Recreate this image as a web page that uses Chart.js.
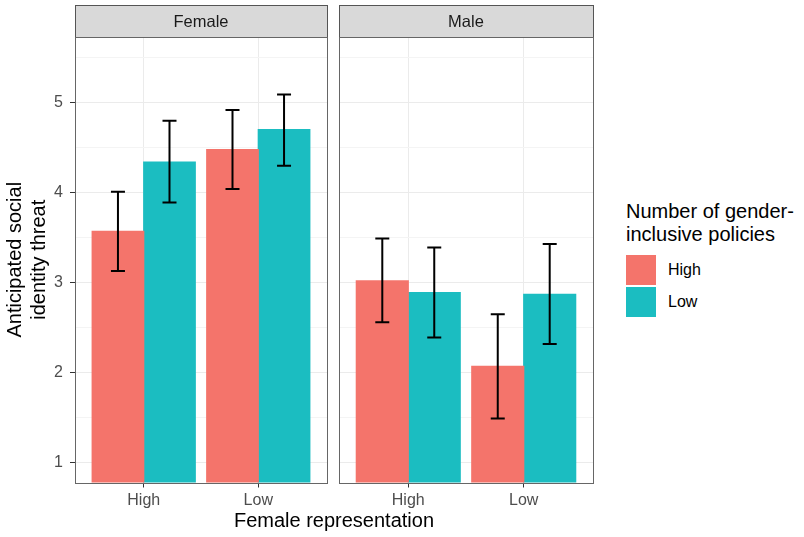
<!DOCTYPE html>
<html>
<head>
<meta charset="utf-8">
<script src="https://cdn.jsdelivr.net/npm/chart.js@4/dist/chart.umd.min.js"></script>
<style>
  body { margin: 0; background: #fff; }
  #wrap { position: relative; width: 804px; height: 537px; font-family: "Liberation Sans", Arial, sans-serif; }
  #left { position: absolute; left: 0; top: 0; }
  #right { position: absolute; left: 334px; top: 0; }
  #xtitle { position: absolute; left: 0; width: 668px; top: 508px; text-align: center; font-size: 20px; line-height: 24px; color: #000; }
  #legend { position: absolute; left: 626px; top: 200px; color: #000; }
  #legend .ttl { font-size: 20px; line-height: 23.4px; }
  #legend .row { display: flex; align-items: center; height: 30px; margin-top: 2px; }
  #legend .row:first-of-type { margin-top: 0; }
  #legend .key { width: 30px; height: 30px; }
  #legend .lab { margin-left: 12px; font-size: 16px; line-height: 30px; }
</style>
</head>
<body>
<div id="wrap">
  <canvas id="left" width="334" height="537"></canvas>
  <canvas id="right" width="266" height="537"></canvas>
  <div id="xtitle">Female representation</div>
  <div id="legend">
    <div class="ttl">Number of gender-<br>inclusive policies</div>
    <div id="keys" style="margin-top:8px"></div>
  </div>
</div>
<script>
var panels = ["Female", "Male"];
var categories = ["High", "Low"];          // Female representation
var seriesNames = ["High", "Low"];         // Number of gender-inclusive policies
var colores = ["#F4746B", "#1BBDC1"];

var femaleHighMean = [3.57, 4.48];
var femaleHighLo = [3.13, 4.04];
var femaleHighHi = [4.01, 4.92];
var femaleLowMean = [4.34, 4.70];
var femaleLowLo = [3.89, 4.30];
var femaleLowHi = [4.80, 5.09];

var maleHighMean = [3.02, 2.07];
var maleHighLo = [2.56, 1.49];
var maleHighHi = [3.49, 2.65];
var maleLowMean = [2.89, 2.87];
var maleLowLo = [2.39, 2.32];
var maleLowHi = [3.39, 3.43];

var yTicks = [1, 2, 3, 4, 5];
var yMin = 0.78;
var yMax = 5.73;

var font = "'Liberation Sans', Arial, sans-serif";

function puntos(valores) {
  return valores.map(function (v, i) { return { x: i + 1, y: v }; });
}

function isMajor(v) {
  return Math.abs(v - Math.round(v)) < 1e-6;
}

var errorBars = {
  id: "errorBars",
  afterDatasetsDraw: function (chart) {
    var ctx = chart.ctx;
    var y = chart.scales.y;
    ctx.save();
    ctx.strokeStyle = "#000";
    ctx.lineWidth = 2;
    chart.data.datasets.forEach(function (ds, i) {
      var meta = chart.getDatasetMeta(i);
      meta.data.forEach(function (bar, j) {
        var top = y.getPixelForValue(ds.errHi[j]);
        var bot = y.getPixelForValue(ds.errLo[j]);
        ctx.beginPath();
        ctx.moveTo(bar.x, top); ctx.lineTo(bar.x, bot);
        ctx.moveTo(bar.x - 7, top); ctx.lineTo(bar.x + 7, top);
        ctx.moveTo(bar.x - 7, bot); ctx.lineTo(bar.x + 7, bot);
        ctx.stroke();
      });
    });
    ctx.restore();
  }
};

var panelFrame = {
  id: "panelFrame",
  afterDraw: function (chart, args, opts) {
    var ctx = chart.ctx;
    var a = chart.chartArea;
    ctx.save();
    // strip
    ctx.fillStyle = "#D9D9D9";
    ctx.fillRect(a.left, 5.5, a.right - a.left, 32);
    ctx.strokeStyle = "#555";
    ctx.lineWidth = 1;
    ctx.strokeRect(Math.round(a.left) + 0.5, 5.5, Math.round(a.right - a.left), 32);
    ctx.fillStyle = "#1A1A1A";
    ctx.font = "16.5px " + font;
    ctx.textAlign = "center";
    ctx.textBaseline = "middle";
    ctx.fillText(opts.label, (a.left + a.right) / 2, 22);
    // panel border
    ctx.strokeStyle = "#666";
    ctx.strokeRect(Math.round(a.left) + 0.5, Math.round(a.top) + 0.5, Math.round(a.right - a.left), Math.round(a.bottom - a.top));
    ctx.restore();
  }
};

function hacerPanel(id, label, highMean, highLo, highHi, lowMean, lowLo, lowHi, conEje) {
  return new Chart(document.getElementById(id), {
    type: "bar",
    data: {
      datasets: [
        { label: seriesNames[0], data: puntos(highMean), errLo: highLo, errHi: highHi, backgroundColor: colores[0], borderWidth: 0, inflateAmount: 0.6 },
        { label: seriesNames[1], data: puntos(lowMean), errLo: lowLo, errHi: lowHi, backgroundColor: colores[1], borderWidth: 0, inflateAmount: 0.6 }
      ]
    },
    plugins: [errorBars, panelFrame],
    options: {
      responsive: false,
      animation: false,
      categoryPercentage: 0.9,
      barPercentage: 1.0,
      layout: { padding: { top: 37, right: 7, bottom: 0, left: 0 } },
      plugins: {
        legend: { display: false },
        tooltip: { enabled: false },
        panelFrame: { label: label }
      },
      scales: {
        x: {
          type: "linear",
          min: 0.4,
          max: 2.6,
          offset: false,
          afterBuildTicks: function (s) {
            s.ticks = categories.map(function (c, i) { return { value: i + 1 }; });
          },
          afterFit: function (s) { s.height = 54.5; },
          ticks: {
            autoSkip: false,
            padding: 3,
            color: "#4D4D4D",
            font: { family: font, size: 16 },
            callback: function (v) { return categories[Math.round(v) - 1]; }
          },
          grid: { offset: false, color: "#EBEBEB", tickColor: "#333", tickLength: 5 },
          border: { display: false }
        },
        y: {
          min: yMin,
          max: yMax,
          afterBuildTicks: function (s) {
            var t = [];
            for (var v = 1; v <= 5.5; v += 0.5) t.push({ value: v });
            s.ticks = t;
          },
          afterFit: function (s) { s.width = conEje ? 75 : 5; },
          ticks: {
            display: conEje,
            autoSkip: false,
            padding: 7,
            color: "#4D4D4D",
            font: { family: font, size: 16 },
            callback: function (v) { return yTicks.indexOf(v) >= 0 ? String(v) : ""; }
          },
          grid: {
            drawTicks: conEje,
            tickLength: 5,
            color: function (c) { return isMajor(c.tick.value) ? "#EBEBEB" : "#F4F4F4"; },
            tickColor: function (c) { return isMajor(c.tick.value) ? "#333" : "rgba(0,0,0,0)"; }
          },
          border: { display: false },
          title: {
            display: conEje,
            text: ["Anticipated social", "identity threat"],
            color: "#000",
            font: { family: font, size: 20, lineHeight: 1.17 },
            padding: { top: 4, bottom: 0 }
          }
        }
      }
    }
  });
}

hacerPanel("left", panels[0], femaleHighMean, femaleHighLo, femaleHighHi, femaleLowMean, femaleLowLo, femaleLowHi, true);
hacerPanel("right", panels[1], maleHighMean, maleHighLo, maleHighHi, maleLowMean, maleLowLo, maleLowHi, false);

var keys = document.getElementById("keys");
seriesNames.forEach(function (n, i) {
  var row = document.createElement("div");
  row.className = "row";
  row.innerHTML = '<div class="key" style="background:' + colores[i] + '"></div><div class="lab">' + n + "</div>";
  keys.appendChild(row);
});
</script>
</body>
</html>
